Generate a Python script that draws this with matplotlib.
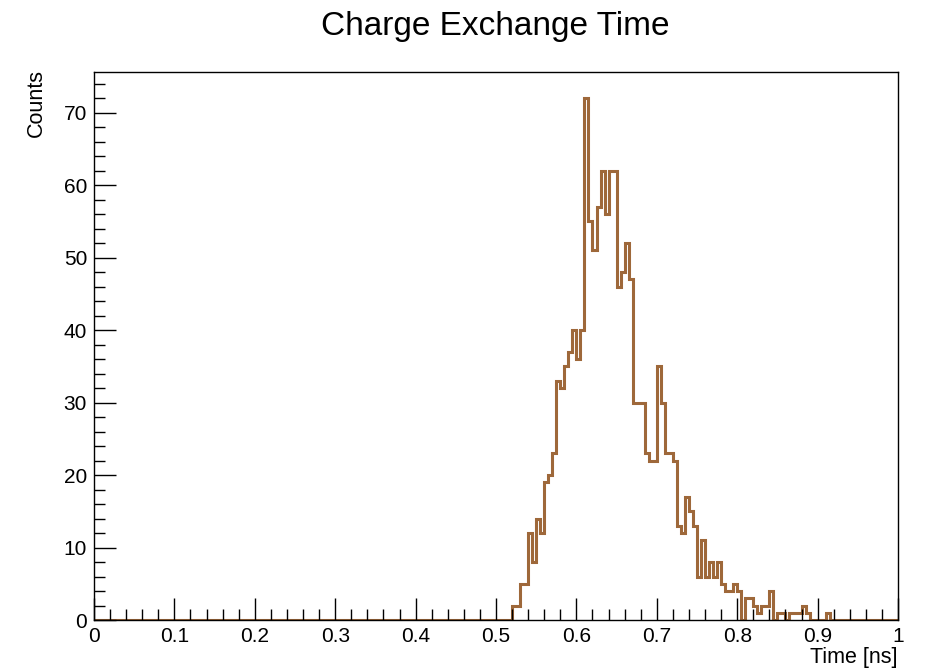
import numpy as np
import matplotlib
matplotlib.use("Agg")
import matplotlib.pyplot as plt
from matplotlib.ticker import MultipleLocator, FormatStrFormatter

plt.rcParams['font.family'] = ['Liberation Sans', 'DejaVu Sans']

# histogram: 200 bins over [0, 1] ns, filled bins start at 0.520
n_bins = 200
x_min, x_max = 0.0, 1.0
first_filled = 0.520
counts_filled = [
    2, 2, 5, 5, 12, 8, 14, 12, 19, 20,
    23, 33, 32, 35, 37, 40, 36, 40, 72, 55,
    51, 57, 62, 56, 62, 62, 46, 48, 52, 47,
    30, 30, 30, 23, 22, 22, 35, 30, 23, 23,
    22, 13, 12, 17, 15, 13, 6, 11, 6, 8,
    6, 8, 5, 4, 4, 5, 4, 0, 3, 3,
    2, 1, 2, 2, 4, 0, 1, 1, 0, 1,
    1, 1, 2, 1, 0, 0, 0, 0, 1,
]

title = "Charge Exchange Time"
x_label = "Time [ns]"
y_label = "Counts"
line_color = "#9e683a"

edges = np.linspace(x_min, x_max, n_bins + 1)
counts = np.zeros(n_bins)
start = int(round((first_filled - x_min) / (x_max - x_min) * n_bins))
counts[start:start + len(counts_filled)] = counts_filled

fig = plt.figure(figsize=(9.43, 6.68), dpi=100)
ax = fig.add_axes([94 / 943, 1 - 620 / 668, (898 - 94) / 943, (620 - 72) / 668])

ax.stairs(counts, edges, color=line_color, linewidth=2.2, baseline=None)

ax.set_xlim(x_min, x_max)
ax.set_ylim(0, counts.max() * 1.05)

ax.xaxis.set_major_locator(MultipleLocator(0.1))
ax.xaxis.set_minor_locator(MultipleLocator(0.02))
ax.yaxis.set_major_locator(MultipleLocator(10))
ax.yaxis.set_minor_locator(MultipleLocator(2))
ax.xaxis.set_major_formatter(FormatStrFormatter('%g'))

ax.tick_params(which='both', direction='in', top=False, right=False,
               labelsize=15, width=1.0, color='black')
ax.tick_params(which='major', length=16)
ax.tick_params(which='minor', length=8)
ax.tick_params(axis='x', pad=5)
ax.tick_params(axis='y', pad=5)

for s in ax.spines.values():
    s.set_linewidth(1.0)
    s.set_color('black')

fig.text(495 / 943, 1 - 27 / 668, title, ha='center', va='center', fontsize=24)
fig.text(898 / 943, 1 - 657 / 668, x_label, ha='right', va='center', fontsize=15.5)
fig.text(36 / 943, 1 - 69 / 668, y_label, ha='center', va='top', rotation=90, fontsize=15.5)

fig.savefig("out.png", dpi=100)
